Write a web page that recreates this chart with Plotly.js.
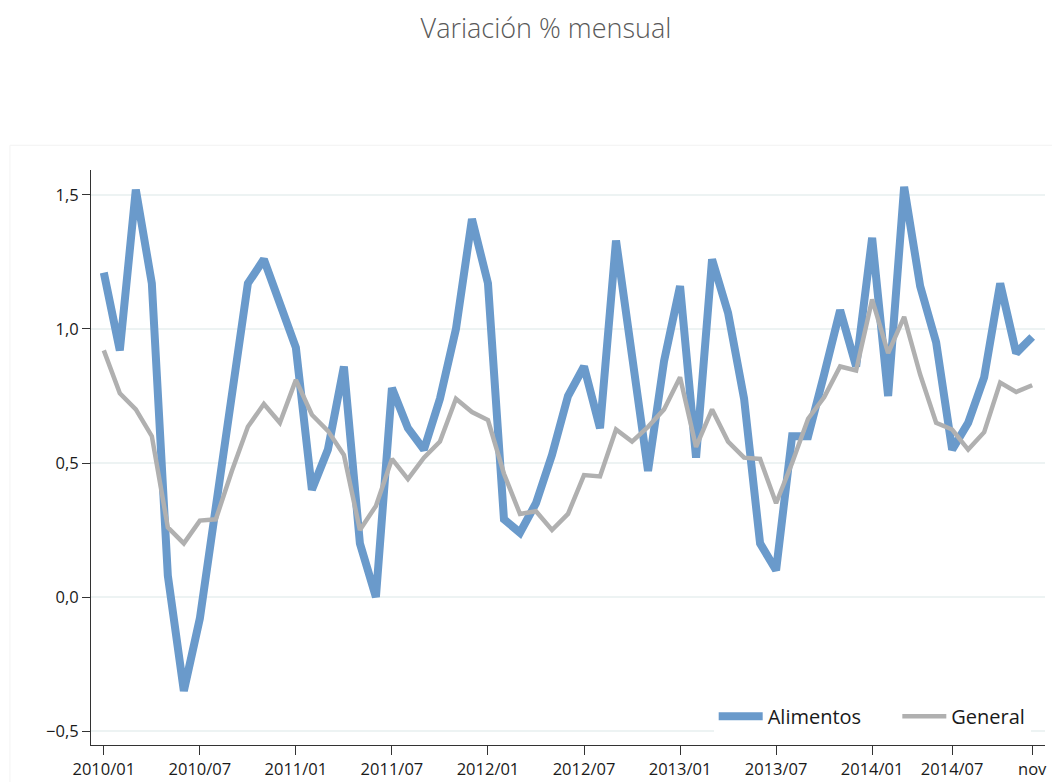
<!DOCTYPE html>
<html>
<head>
<meta charset="utf-8">
<script src="https://cdn.plot.ly/plotly-3.0.1.min.js"></script>
<style>html,body{margin:0;padding:0;background:#fff;}#chart{width:1052px;height:782px;}</style>
</head>
<body>
<div id="chart"></div>
<script>
// Months 2010/01 .. 2014/11
var months = [];
for (var y = 2010; y <= 2014; y++) {
  for (var m = 1; m <= 12; m++) {
    if (y === 2014 && m > 11) break;
    months.push(y + "/" + (m < 10 ? "0" + m : m));
  }
}

var alimentos = [
  1.21, 0.92, 1.52, 1.17, 0.08, -0.35, -0.08, 0.33, 0.73, 1.17, 1.26, 1.10,
  0.93, 0.40, 0.55, 0.86, 0.20, 0.00, 0.78, 0.63, 0.55, 0.74, 1.00, 1.41,
  1.17, 0.29, 0.24, 0.35, 0.53, 0.75, 0.86, 0.63, 1.33, 0.90, 0.47, 0.88,
  1.16, 0.52, 1.26, 1.06, 0.74, 0.20, 0.10, 0.60, 0.60, 0.83, 1.07, 0.86,
  1.34, 0.75, 1.53, 1.16, 0.95, 0.55, 0.65, 0.82, 1.17, 0.91, 0.97
];

var general = [
  0.92, 0.76, 0.70, 0.60, 0.26, 0.20, 0.285, 0.29, 0.47, 0.635, 0.72, 0.65,
  0.81, 0.68, 0.62, 0.53, 0.25, 0.34, 0.515, 0.44, 0.52, 0.58, 0.74, 0.69,
  0.66, 0.46, 0.31, 0.32, 0.25, 0.31, 0.455, 0.45, 0.625, 0.58, 0.635, 0.70,
  0.82, 0.56, 0.70, 0.58, 0.52, 0.515, 0.35, 0.50, 0.665, 0.745, 0.86, 0.845,
  1.11, 0.91, 1.045, 0.83, 0.65, 0.625, 0.55, 0.615, 0.80, 0.765, 0.79
];

var tickVals = ["2010/01","2010/07","2011/01","2011/07","2012/01","2012/07","2013/01","2013/07","2014/01","2014/06","2014/11"];
var tickText = ["2010/01","2010/07","2011/01","2011/07","2012/01","2012/07","2013/01","2013/07","2014/01","2014/07","nov"];
var yTicks = [-0.5, 0, 0.5, 1, 1.5];

var traces = [
  {
    x: months, y: alimentos, name: "Alimentos\u00a0\u00a0\u00a0\u00a0\u00a0\u00a0", type: "scatter", mode: "lines",
    line: {color: "#6a9acb", width: 8, shape: "linear"}
  },
  {
    x: months, y: general, name: "General", type: "scatter", mode: "lines",
    line: {color: "#b0b0b0", width: 4.5}
  }
];

var layout = {
  width: 1052, height: 782,
  paper_bgcolor: "#ffffff", plot_bgcolor: "#ffffff",
  separators: ",.",
  font: {family: "Open Sans, sans-serif", color: "#1a1a1a", size: 16},
  title: {
    text: "Variación % mensual",
    font: {family: "Open Sans, sans-serif", size: 27, color: "#595959", weight: 300},
    x: 0.519, xanchor: "center", xref: "container",
    y: 0.964, yanchor: "middle", yref: "container"
  },
  margin: {l: 91, r: 7, t: 170, b: 37, pad: 0},
  showlegend: true,
  legend: {
    orientation: "h",
    x: 0.985, xanchor: "right",
    y: 0.05, yanchor: "middle",
    bgcolor: "#ffffff",
    font: {family: "Open Sans, sans-serif", size: 20, color: "#1a1a1a"},
    itemwidth: 44
  },
  xaxis: {
    type: "category",
    range: [-0.8, 58.8],
    tickmode: "array", tickvals: tickVals, ticktext: tickText,
    showgrid: false, zeroline: false,
    showline: true, linecolor: "#333333", linewidth: 1,
    ticks: "outside", ticklen: 9, tickcolor: "#333333", tickwidth: 1,
    tickfont: {size: 16.5, color: "#1a1a1a"},
    tickangle: 0
  },
  yaxis: {
    range: [-0.552, 1.593],
    tickmode: "array", tickvals: yTicks, tickformat: ".1f",
    showgrid: true, gridcolor: "#edf3f3", gridwidth: 1.5,
    zeroline: false,
    showline: true, linecolor: "#333333", linewidth: 1,
    ticks: "outside", ticklen: 8, tickcolor: "#333333", tickwidth: 1,
    tickfont: {size: 16.5, color: "#1a1a1a"}
  },
  shapes: [
    {type: "line", xref: "paper", yref: "paper", x0: -0.085, x1: 1.01, y0: 1.043, y1: 1.043,
     line: {color: "#f3f3f3", width: 1}, layer: "below"},
    {type: "line", xref: "paper", yref: "paper", x0: -0.085, x1: -0.085, y0: -0.1, y1: 1.043,
     line: {color: "#f3f3f3", width: 1}, layer: "below"}
  ]
};

Plotly.newPlot("chart", traces, layout, {displayModeBar: false, staticPlot: true});
</script>
</body>
</html>
